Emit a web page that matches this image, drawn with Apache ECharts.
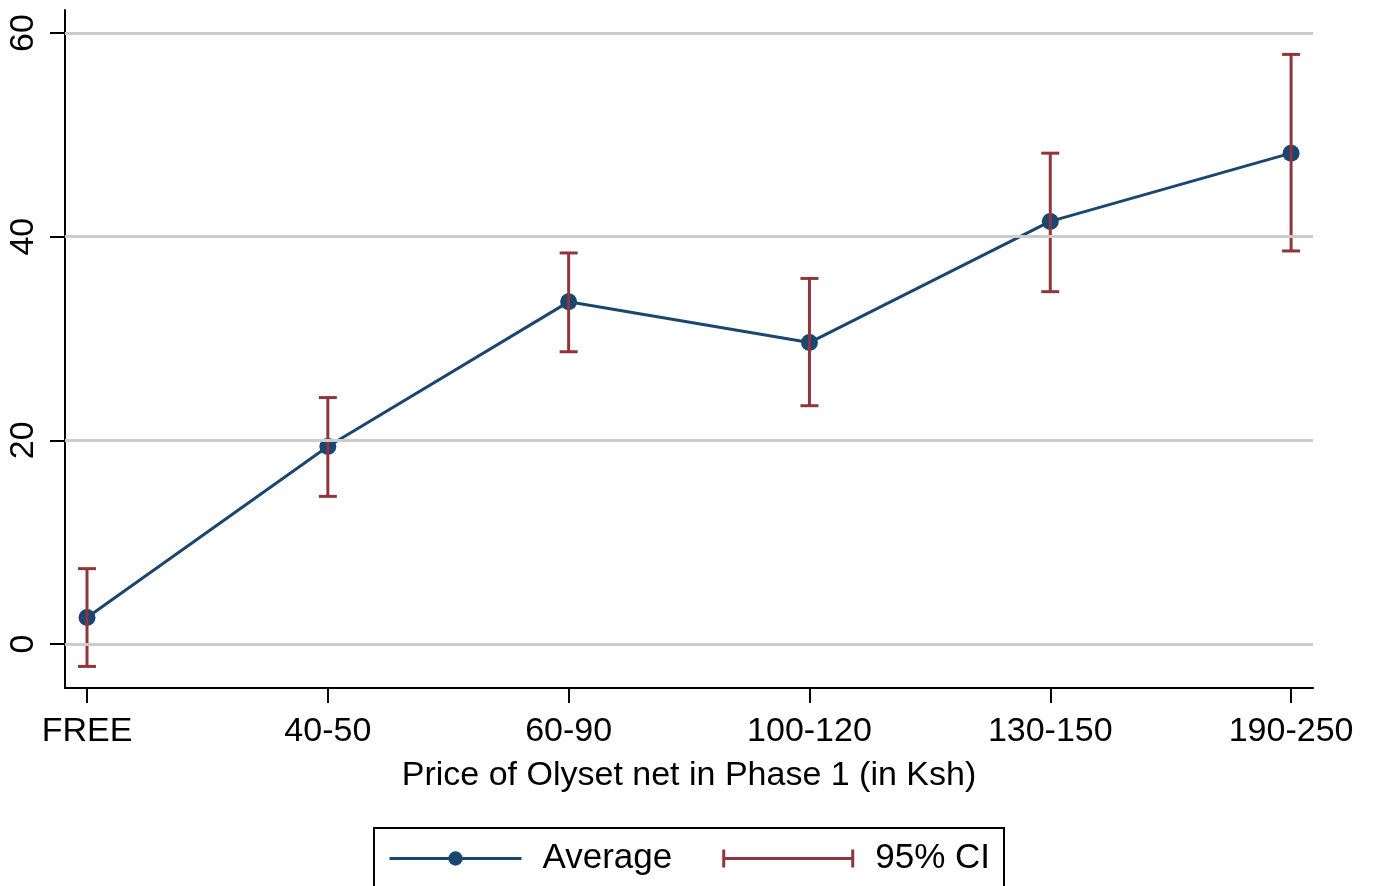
<!DOCTYPE html>
<html>
<head>
<meta charset="utf-8">
<script src="https://cdn.jsdelivr.net/npm/echarts@6/dist/echarts.min.js"></script>
<style>
html,body{margin:0;padding:0;background:#fff;}
#chart{width:1374px;height:886px;}
</style>
</head>
<body>
<div id="chart"></div>
<script>
const categories = ['FREE', '40-50', '60-90', '100-120', '130-150', '190-250'];
const averageValues = [2.6, 19.4, 33.6, 29.6, 41.5, 48.2];
const ciLower = [-2.2, 14.5, 28.7, 23.4, 34.6, 38.6];
const ciUpper = [7.4, 24.2, 38.4, 35.9, 48.2, 57.9];
const yTicks = [0, 20, 40, 60];
const xTicks = [0, 1, 2, 3, 4, 5];

const NAVY = '#1a476f';
const MAROON = '#90353b';
const FONT = '"Liberation Sans", Arial, Helvetica, sans-serif';
const FS = 34;

const chart = echarts.init(document.getElementById('chart'), null, {renderer: 'canvas'});

const lineData = averageValues.map((v, i) => [i, v]);
const ciData = categories.map((c, i) => [i, ciLower[i], ciUpper[i]]);

const capIcon = 'path://M0,0 L3,0 L3,18 L0,18 Z M0,7.5 L132,7.5 L132,10.5 L0,10.5 Z M129,0 L132,0 L132,18 L129,18 Z';

const option = {
  backgroundColor: '#fff',
  animation: false,
  textStyle: {fontFamily: FONT},
  grid: {left: 65, right: 61, top: 10, bottom: 198, containLabel: false},
  xAxis: {
    type: 'value',
    min: -0.0914,
    max: 5.091,
    splitLine: {show: false},
    axisLine: {show: true, onZero: false, lineStyle: {color: '#000', width: 2}},
    axisTick: {show: true, length: 15, lineStyle: {color: '#000', width: 2}, customValues: xTicks},
    axisLabel: {
      customValues: xTicks,
      formatter: v => categories[Math.round(v)],
      color: '#000', fontSize: FS, fontFamily: FONT, margin: 27
    },
    name: 'Price of Olyset net in Phase 1 (in Ksh)',
    nameLocation: 'middle',
    nameGap: 71,
    nameTextStyle: {color: '#000', fontSize: FS, fontFamily: FONT}
  },
  yAxis: {
    type: 'value',
    min: -4.32,
    max: 62.26,
    splitLine: {show: false},
    axisLine: {show: true, onZero: false, lineStyle: {color: '#000', width: 2}},
    axisTick: {show: true, length: 15, lineStyle: {color: '#000', width: 2}, customValues: yTicks},
    axisLabel: {
      customValues: yTicks,
      rotate: 90,
      color: '#000', fontSize: FS, fontFamily: FONT, margin: 24
    }
  },
  legend: {
    show: true,
    bottom: -40,
    left: 374,
    orient: 'horizontal',
    backgroundColor: '#fff',
    borderColor: '#000',
    borderWidth: 2,
    borderRadius: 0,
    padding: [13, 14, 50, 14],
    itemGap: 50,
    itemWidth: 132,
    itemHeight: 18,
    textStyle: {color: '#000', fontSize: 35, fontFamily: FONT, padding: [0, 0, 0, 16]},
    data: [
      {name: 'Average', lineStyle: {width: 3, color: NAVY}, itemStyle: {color: NAVY}},
      {name: '95% CI', icon: capIcon, itemStyle: {color: MAROON}}
    ]
  },
  series: [
    {
      name: 'grid',
      type: 'line',
      data: [],
      silent: true,
      z: 1,
      markLine: {
        silent: true,
        symbol: ['none', 'none'],
        label: {show: false},
        lineStyle: {color: '#cccccc', width: 3, type: 'solid'},
        data: yTicks.map(t => ({yAxis: t}))
      }
    },
    {
      name: 'Average',
      type: 'line',
      data: lineData,
      z: 3,
      symbol: 'circle',
      symbolSize: 17,
      showSymbol: true,
      lineStyle: {color: NAVY, width: 3},
      itemStyle: {color: NAVY}
    },
    {
      name: '95% CI',
      type: 'custom',
      z: 4,
      data: ciData,
      itemStyle: {color: MAROON},
      renderItem: function (params, api) {
        const x = api.value(0);
        const lo = api.coord([x, api.value(1)]);
        const hi = api.coord([x, api.value(2)]);
        const half = 9;
        const style = {stroke: MAROON, lineWidth: 3, fill: null};
        return {
          type: 'group',
          children: [
            {type: 'line', shape: {x1: lo[0], y1: lo[1], x2: hi[0], y2: hi[1]}, style: style},
            {type: 'line', shape: {x1: lo[0] - half, y1: lo[1], x2: lo[0] + half, y2: lo[1]}, style: style},
            {type: 'line', shape: {x1: hi[0] - half, y1: hi[1], x2: hi[0] + half, y2: hi[1]}, style: style}
          ]
        };
      }
    }
  ]
};
chart.setOption(option);
</script>
</body>
</html>
